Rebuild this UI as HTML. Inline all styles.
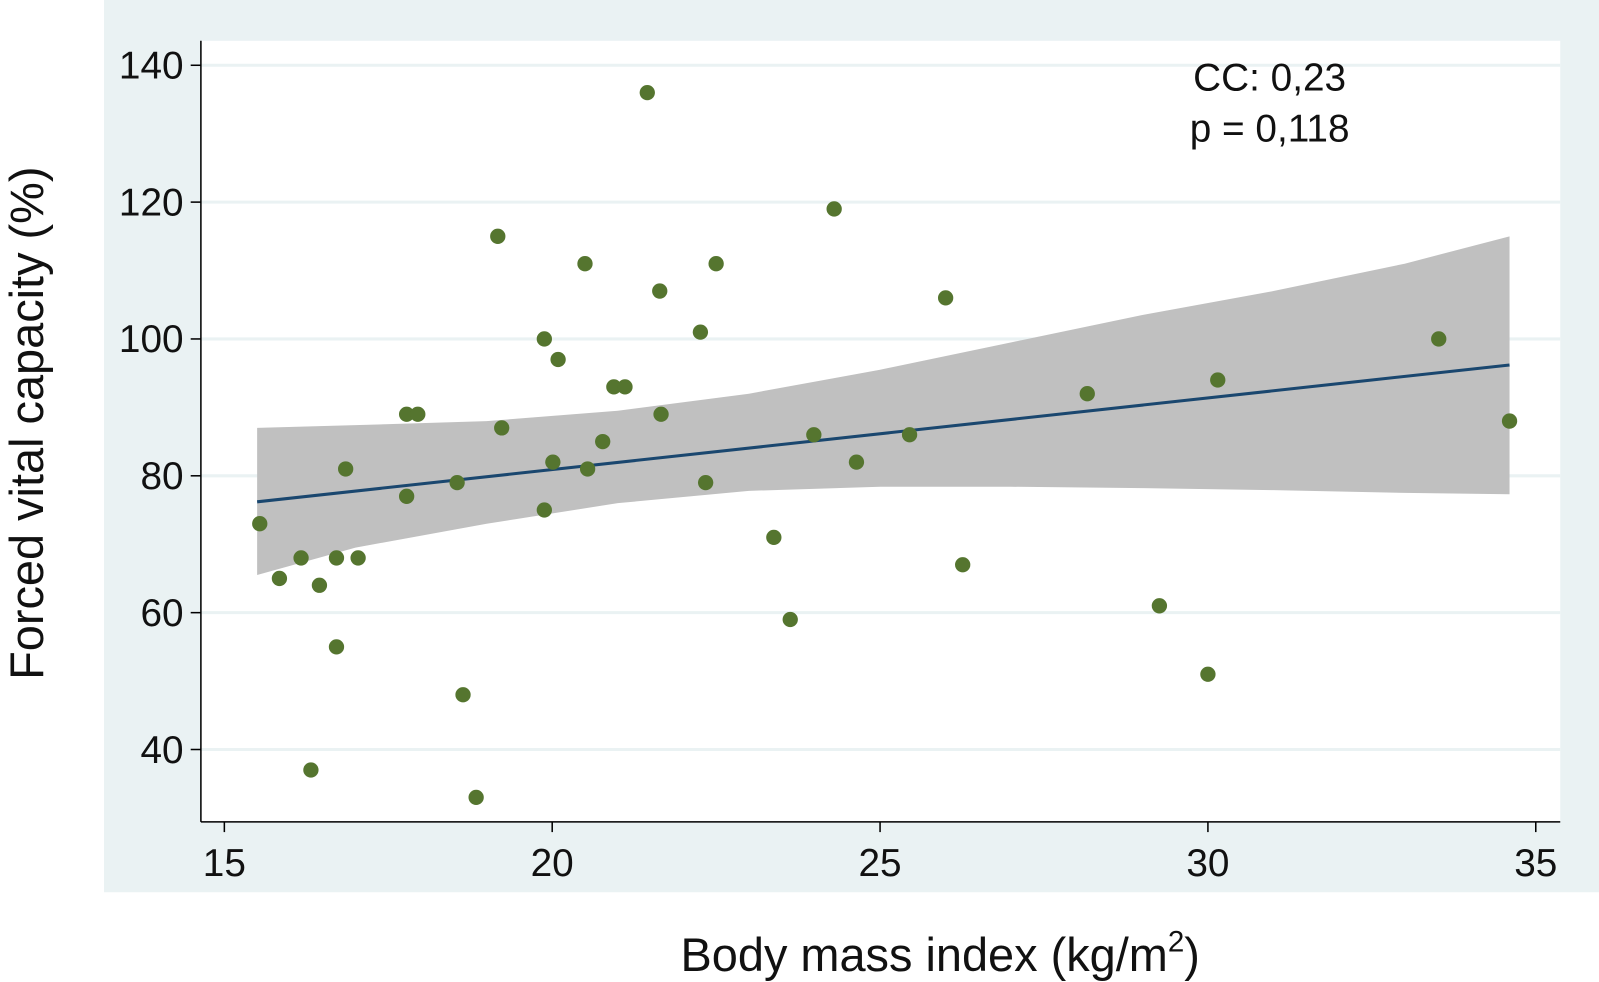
<!DOCTYPE html>
<html><head><meta charset="utf-8"><style>
html,body{margin:0;padding:0;background:#fff;}
svg{display:block;font-family:"Liberation Sans",Arial,sans-serif;}
</style></head><body>
<svg id="chart" width="1599" height="982" viewBox="0 0 1568 963" preserveAspectRatio="none">
<rect x="102" y="0" width="1466" height="875" fill="#eaf2f3"/>
<rect x="197" y="40" width="1333" height="766" fill="#ffffff"/>
<g id="grid"></g>
<g id="band"></g>
<g id="fit"></g>
<g id="points"></g>
<g id="axes"></g>
<text x="1245" y="89" font-size="38" text-anchor="middle" fill="#111">CC: 0,23</text>
<text x="1245" y="139" font-size="38" text-anchor="middle" fill="#111">p = 0,118</text>
<text transform="translate(42,415) rotate(-90)" font-size="46" text-anchor="middle" fill="#111">Forced vital capacity (%)</text>
<text x="922" y="952" font-size="46" text-anchor="middle" fill="#111">Body mass index (kg/m<tspan font-size="29" dy="-19">2</tspan><tspan dy="19">)</tspan></text>
</svg>
<script>
const bmi=[15.54,15.84,16.17,16.45,16.32,16.71,16.71,16.85,17.04,17.78,17.78,17.95,18.55,18.64,18.84,19.17,19.23,19.88,19.88,20.01,20.09,20.5,20.54,20.77,20.94,21.11,21.45,21.64,21.66,22.26,22.34,22.5,23.38,23.63,23.99,24.3,24.64,25.45,26.0,26.26,28.16,29.26,30.0,30.15,33.52,34.6];
const fvc=[73,65,68,64,37,68,55,81,68,77,89,89,79,48,33,115,87,100,75,82,97,111,81,85,93,93,136,107,89,101,79,111,71,59,86,119,82,86,106,67,92,61,51,94,100,88];
const bandX=[15.5,17,19,21,23,25,27,29,31,33,34.6];
const bandUpper=[87,87.4,88,89.5,92,95.5,99.5,103.5,107,111,115];
const bandLower=[65.5,69.5,73,76,77.8,78.4,78.4,78.2,77.9,77.5,77.3];
const fitX=[15.5,34.6];
const fitY=[76.2,96.2];
const xTicks=[15,20,25,30,35];
const yTicks=[40,60,80,100,120,140];

const NS="http://www.w3.org/2000/svg";
const xs=v=>220+(v-15)*64.3;
const ys=v=>64+(140-v)*6.71;
function mk(tag,attrs,parent){const e=document.createElementNS(NS,tag);for(const k in attrs)e.setAttribute(k,attrs[k]);document.getElementById(parent).appendChild(e);return e;}

yTicks.forEach(t=>{
  const g=mk('line',{x1:197,x2:1530,y1:ys(t),y2:ys(t),stroke:'#eaf2f3','stroke-width':3},'grid');
  
  
});

let d='';
bandX.forEach((x,i)=>{d+=(i?'L':'M')+xs(x)+','+ys(bandUpper[i]);});
for(let i=bandX.length-1;i>=0;i--)d+='L'+xs(bandX[i])+','+ys(bandLower[i]);
const band=mk('path',{d:d+'Z',fill:'#c0c0c0'},'band');



const fl=mk('line',{x1:xs(fitX[0]),y1:ys(fitY[0]),x2:xs(fitX[1]),y2:ys(fitY[1]),stroke:'#1a476f','stroke-width':3},'fit');



bmi.forEach((b,i)=>{
  const c=mk('circle',{cx:xs(b),cy:ys(fvc[i]),r:7.5,fill:'#55752f'},'points');
  
  
});

const ya=mk('line',{x1:197,x2:197,y1:40,y2:806,stroke:'#000','stroke-width':1.5},'axes');


const xa=mk('line',{x1:197,x2:1530,y1:806,y2:806,stroke:'#000','stroke-width':1.5},'axes');



yTicks.forEach(t=>{
  const tk=mk('line',{x1:187,x2:197,y1:ys(t),y2:ys(t),stroke:'#000','stroke-width':1.5},'axes');
  
  
  const tx=mk('text',{x:180,y:ys(t)+13,'font-size':38,'text-anchor':'end',fill:'#111'},'axes');
  tx.textContent=t;
  
  
});
xTicks.forEach(t=>{
  const tk=mk('line',{x1:xs(t),x2:xs(t),y1:806,y2:816,stroke:'#000','stroke-width':1.5},'axes');
  
  
  const tx=mk('text',{x:xs(t),y:859,'font-size':38,'text-anchor':'middle',fill:'#111'},'axes');
  tx.textContent=t;
  
  
});
</script>
</body></html>
